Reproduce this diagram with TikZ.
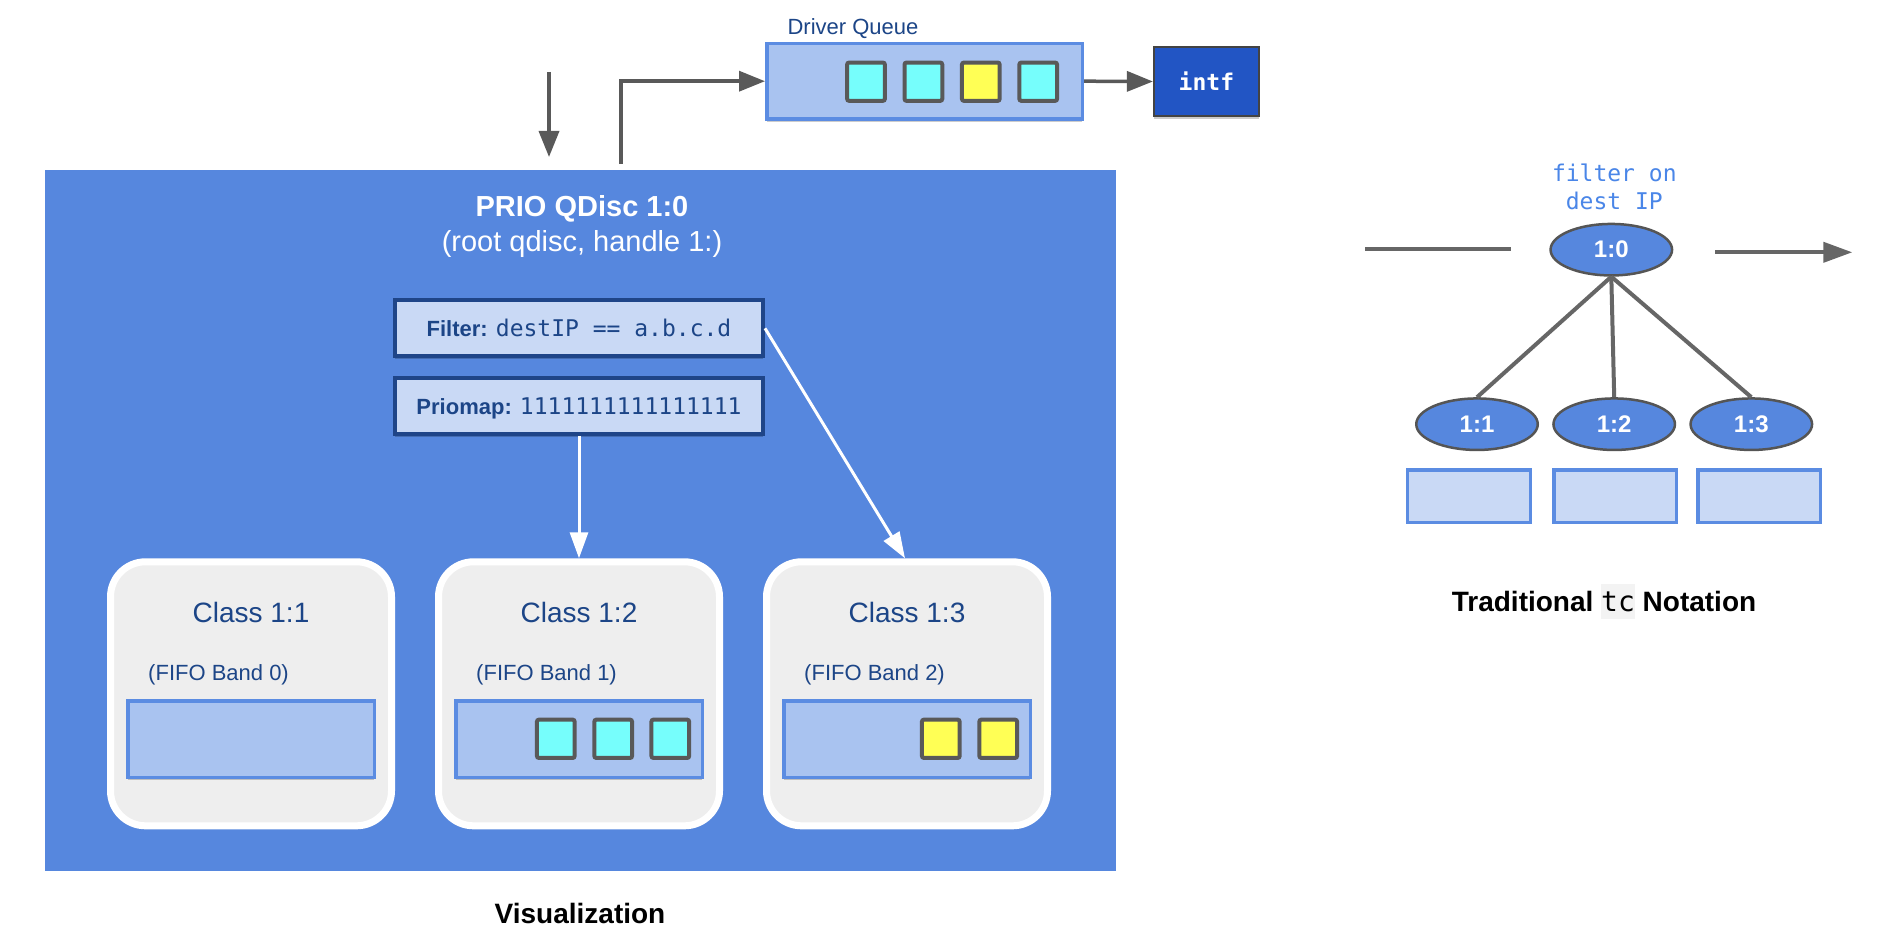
\documentclass[tikz,border=0pt]{standalone}
\usepackage{fontspec}
\setmainfont{Liberation Sans}
\newfontfamily\monof{DejaVu Sans Mono}
\usetikzlibrary{arrows.meta,shadows,shapes.geometric}
\definecolor{mainblue}{RGB}{86,135,222}
\definecolor{qfill}{RGB}{169,195,240}
\definecolor{qborder}{RGB}{91,140,226}
\definecolor{ffill}{RGB}{201,217,245}
\definecolor{fborder}{RGB}{31,69,136}
\definecolor{darktext}{RGB}{28,69,135}
\definecolor{pcyan}{RGB}{118,254,252}
\definecolor{pyellow}{RGB}{255,255,85}
\definecolor{pborder}{RGB}{89,89,89}
\definecolor{intfblue}{RGB}{34,85,196}
\definecolor{intfborder}{RGB}{67,67,67}
\definecolor{classfill}{RGB}{238,238,238}
\definecolor{lgray}{RGB}{89,89,89}
\definecolor{tgray}{RGB}{102,102,102}
\definecolor{ellborder}{RGB}{85,85,85}
\definecolor{flcolor}{RGB}{74,134,232}
\definecolor{tcbg}{RGB}{243,243,243}
\newcommand\myfs[1]{\fontsize{#1}{#1}\selectfont}
\newcommand\tcword[1]{{\setlength{\fboxsep}{0pt}\colorbox{tcbg}{\rule[-7pt]{0pt}{34.7pt}\mdseries\monof #1}}}
\begin{document}
\begin{tikzpicture}[x=1pt,y=-1pt,
  softshadow/.style={drop shadow={shadow xshift=0pt,shadow yshift=-3pt,opacity=0.2,fill=black}},
  qdiscbox/.style={draw=white,line width=6pt,fill=mainblue,minimum width=1077pt,minimum height=707pt,inner sep=0pt,softshadow},
  fbox/.style={draw=fborder,line width=4pt,fill=ffill,minimum width=368pt,minimum height=56pt,inner sep=0pt,text=darktext,font=\myfs{22},text height=17pt,text depth=0pt,softshadow},
  qbox/.style={draw=qborder,line width=3.5pt,fill=qfill,inner sep=0pt,softshadow},
  pkt/.style={draw=pborder,line width=4pt,minimum width=37.7pt,minimum height=38.3pt,inner sep=0pt,rounded corners=2pt},
  classbox/.style={draw=white,line width=7pt,fill=classfill,minimum width=281pt,minimum height=264pt,inner sep=0pt,rounded corners=35pt,softshadow},
  classtitle/.style={anchor=base,text=darktext,font=\myfs{28}},
  fifolabel/.style={anchor=base west,text=darktext,font=\myfs{22}},
  garrow/.style={draw=lgray,line width=3.5pt,-{Triangle[length=26pt,width=20pt]}},
  warrow/.style={draw=white,line width=3pt,-{Triangle[length=26pt,width=18pt]}},
  tcell/.style={ellipse,draw=ellborder,line width=2.5pt,fill=mainblue,minimum width=121.5pt,minimum height=51.5pt,inner sep=0pt,text=white,font=\myfs{24}\bfseries},
  trect/.style={draw=qborder,line width=3.3pt,fill=ffill,minimum width=122.7pt,minimum height=52.7pt,inner sep=0pt},
  gline/.style={draw=tgray,line width=4pt}
]
\useasboundingbox (0,0) rectangle (1902,952);
\fill[white] (0,0) rectangle (1902,952);

% ---------- Visualization ----------
\node[qdiscbox] (qdisc) at (580.5,520.5) {};
\node[anchor=base,text=white,font=\myfs{29}\bfseries] (title) at (582,216) {PRIO QDisc 1:0};
\node[anchor=base,text=white,font=\myfs{29}] (subtitle) at (582,251) {(root qdisc, handle 1:)};

\node[fbox] (filter) at (579,328.3) {\textbf{Filter:} {\myfs{23}\monof destIP == a.b.c.d}};
\node[fbox] (prio) at (579,405.8) {\textbf{Priomap:} {\myfs{23}\monof 1111111111111111}};

% classes
\node[classbox] (c1) at (251,693.8) {};
\node[classtitle] (c1t) at (251,622.7) {Class 1:1};
\node[fifolabel] (c1f) at (144.7,680) {(FIFO Band 0)};
\node[qbox,minimum width=246.5pt,minimum height=76.5pt] (c1q) at (251,739) {};

\node[classbox] (c2) at (579,693.8) {};
\node[classtitle] (c2t) at (579,622.7) {Class 1:2};
\node[fifolabel] (c2f) at (472.7,680) {(FIFO Band 1)};
\node[qbox,minimum width=246.5pt,minimum height=76.5pt] (c2q) at (579,739) {};
\node[pkt,fill=pcyan] (c2p1) at (555.8,738.8) {};
\node[pkt,fill=pcyan] (c2p2) at (613.2,738.8) {};
\node[pkt,fill=pcyan] (c2p3) at (670.3,738.8) {};

\node[classbox] (c3) at (907,693.8) {};
\node[classtitle] (c3t) at (907,622.7) {Class 1:3};
\node[fifolabel] (c3f) at (800.7,680) {(FIFO Band 2)};
\node[qbox,minimum width=246.5pt,minimum height=76.5pt] (c3q) at (907,739) {};
\node[pkt,fill=pyellow] (c3p1) at (940.8,738.8) {};
\node[pkt,fill=pyellow] (c3p2) at (998.2,738.8) {};

\draw[warrow] (prio.south) -- (c2.north);
\draw[warrow] (filter.east) -- ([xshift=-2pt]c3.north);

\node[anchor=base,font=\myfs{28}\bfseries] (vis) at (580,923) {Visualization};

% driver queue
\node[qbox,minimum width=315.5pt,minimum height=75.5pt] (dq) at (924.5,81.2) {};
\node[anchor=base west,text=darktext,font=\myfs{22}] (dqlabel) at (784,34.7) {Driver Queue};
\node[pkt,fill=pcyan] (dp1) at (866,81.7) {};
\node[pkt,fill=pcyan] (dp2) at (923.4,81.7) {};
\node[pkt,fill=pyellow] (dp3) at (980.8,81.7) {};
\node[pkt,fill=pcyan] (dp4) at (1038.2,81.7) {};
\node[draw=intfborder,line width=2pt,fill=intfblue,minimum width=105pt,minimum height=69.6pt,inner sep=0pt,text=white,font=\myfs{23}\monof\bfseries,softshadow] (intf) at (1206.4,81.5) {intf};
\draw[garrow] (dq.east) -- (intf.west);

\coordinate (inTop) at (549,72);
\draw[garrow,shorten >=7pt] (inTop) -- (inTop |- qdisc.north);
\coordinate (outBot) at (621,164);
\draw[garrow] (outBot) |- (dq.west);

% ---------- Traditional tc notation ----------
\node[anchor=base,text=flcolor,font=\myfs{23}\monof] (fl1) at (1614.3,181.7) {filter on};
\node[anchor=base,text=flcolor,font=\myfs{23}\monof] (fl2) at (1614.3,209.3) {dest IP};
\node[tcell] (e0) at (1611.3,249.7) {1:0};
\coordinate (lin1) at (1365,249);
\coordinate (lin2) at (1511,249);
\draw[gline] (lin1) -- (lin2);
\coordinate (rout1) at (1715,252.3);
\coordinate (rout2) at (1852.3,252.3);
\draw[gline,-{Triangle[length=29pt,width=20pt]}] (rout1) -- (rout2);

\node[tcell] (e1) at (1477,424.2) {1:1};
\node[tcell] (e2) at (1614.2,424.2) {1:2};
\node[tcell] (e3) at (1751.3,424.2) {1:3};
\draw[gline] (e0.south) -- (e1.north);
\draw[gline] (e0.south) -- (e2.north);
\draw[gline] (e0.south) -- (e3.north);

\node[trect] (r1) at (1469,496.3) {};
\node[trect] (r2) at (1615.2,496.3) {};
\node[trect] (r3) at (1759.3,496.3) {};

\node[anchor=base,font=\myfs{28}\bfseries] (cap) at (1604,611.7) {Traditional \tcword{tc} Notation};
\end{tikzpicture}
\end{document}
